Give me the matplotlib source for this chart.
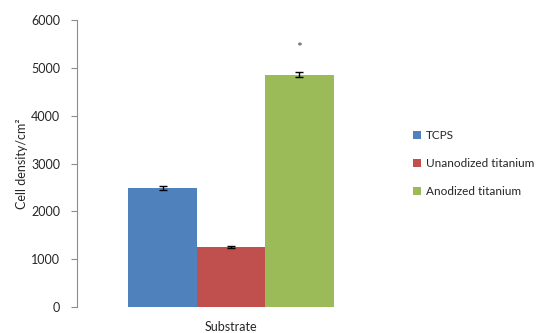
import matplotlib
matplotlib.use("Agg")
import matplotlib.pyplot as plt

plt.rcParams['font.family'] = ['Lato', 'DejaVu Sans']

groups = ["TCPS", "Unanodized titanium", "Anodized titanium"]
density = [2490, 1250, 4860]
errors = [40, 20, 50]
colors = ["#4F81BD", "#C0504D", "#9BBB59"]
yticks = [0, 1000, 2000, 3000, 4000, 5000, 6000]
star_y = 5420

fig = plt.figure(figsize=(5.5, 3.33), dpi=100)
ax = fig.add_axes([0.14, 0.078, 0.56, 0.862])

positions = [-1, 0, 1]
for x, v, e, c, lab in zip(positions, density, errors, colors, groups):
    ax.bar(x, v, width=1.0, color=c, label=lab, zorder=2)
    ax.errorbar(x, v, yerr=e, fmt='none', ecolor='black', elinewidth=1,
                capsize=3, capthick=1, zorder=3)

ax.text(1, star_y, "*", ha='center', va='center', fontsize=10, color='#404040')

ax.set_xlim(-2.25, 2.25)
ax.set_ylim(0, 6000)
ax.set_yticks(yticks)
ax.set_yticklabels([str(t) for t in yticks])
ax.set_xticks([])
ax.set_xlabel("Substrate", fontsize=9, color='#262626', labelpad=10)
ax.set_ylabel("Cell density/cm²", fontsize=9, color='#262626', labelpad=2)

for s in ['top', 'right', 'bottom']:
    ax.spines[s].set_visible(False)
ax.spines['left'].set_color('#8c8c8c')
ax.tick_params(axis='y', direction='out', length=4, color='#8c8c8c',
               labelsize=9, labelcolor='#262626', pad=8)

leg = ax.legend(loc='center left', bbox_to_anchor=(1.055, 0.5), frameon=False,
                fontsize=8.5, handlelength=0.7, handleheight=0.7,
                handletextpad=0.4, labelspacing=1.45, labelcolor='#262626')

fig.savefig("out.png", dpi=100)
